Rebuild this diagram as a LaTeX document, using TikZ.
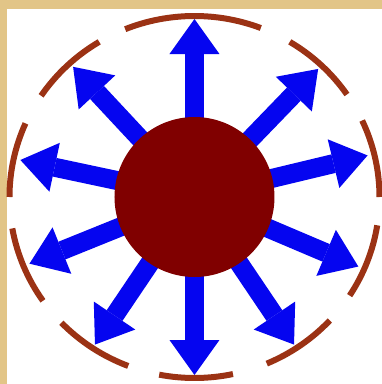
\documentclass[tikz,border=0pt]{standalone}
\usetikzlibrary{arrows.meta}
\definecolor{framebeige}{RGB}{226,197,135}
\definecolor{ringbrown}{RGB}{155,50,20}
\definecolor{coremaroon}{RGB}{128,0,0}
\definecolor{rayblue}{RGB}{5,5,240}
\pgfdeclarelayer{back}
\pgfdeclarelayer{rays}
\pgfsetlayers{back,rays,main}
\tikzset{
  ray/.style={draw=rayblue, line width=19pt, -{Triangle[width=50pt,length=35pt,line width=0pt,color=rayblue,fill=rayblue]}},
  ringarc/.style={draw=ringbrown, line width=6pt},
  core/.style={circle, fill=coremaroon, minimum size=160pt, inner sep=0pt},
}
\begin{document}
\begin{tikzpicture}[x=1pt,y=1pt]
\useasboundingbox (-194.5,-187) rectangle (187.5,197);
\begin{pgfonlayer}{back}
  \fill[framebeige] (-194.5,-187) rectangle (187.5,197);
  \fill[white] (-187.5,-187) rectangle (187.5,188);
\end{pgfonlayer}
\node[core] (core) at (0,0) {};
\foreach \a [count=\i] in {90,46,13.5,-23,-56,-90,-124,-158,168,133} {
  \coordinate (tip\i) at (\a:178);
  \begin{pgfonlayer}{rays}
    \draw[ray] (core.center) -- (tip\i);
  \end{pgfonlayer}
}
\foreach \s/\e in {69/112, 34.5/59, 0/25, -33/-9, -67/-43, -101/-78, -136/-111, -170/-145, 156/180, 121/146} {
  \draw[ringarc] (\s:185 and 181) arc[start angle=\s, end angle=\e, x radius=185, y radius=181];
}
\end{tikzpicture}
\end{document}
